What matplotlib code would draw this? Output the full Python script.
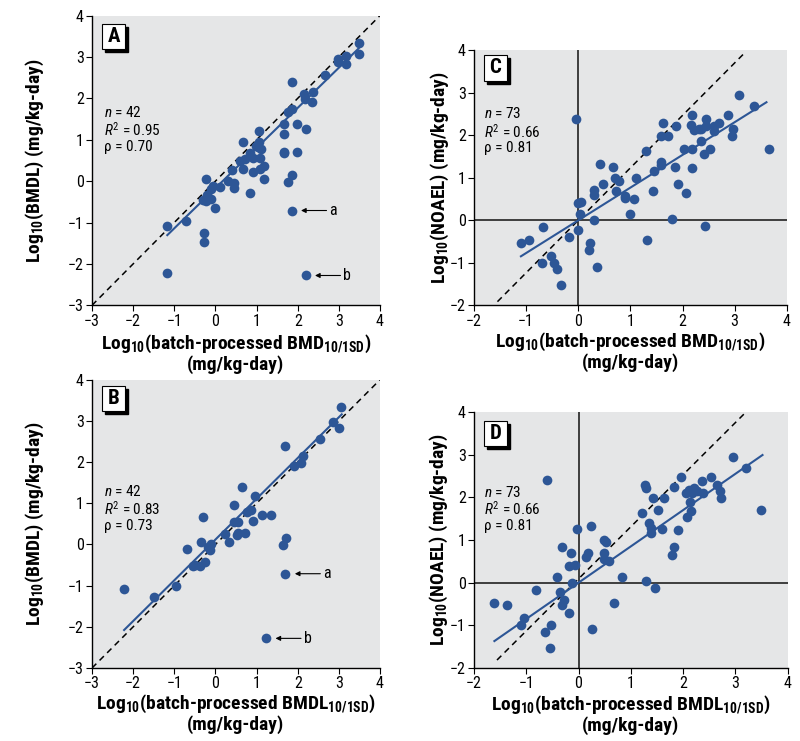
import matplotlib
matplotlib.use("Agg")
import matplotlib.pyplot as plt
from matplotlib import font_manager
from matplotlib.patches import Rectangle
import numpy as np

# pick a condensed sans (the figure uses a Univers-condensed-like face)
have = {}
for f in font_manager.fontManager.ttflist:
    have.setdefault(f.name, set()).add(str(f.weight))
narrow = 'Liberation Sans'
for name in ['Liberation Sans Narrow', 'Roboto Condensed', 'PT Sans Narrow',
             'Arimo Narrow', 'Archivo Narrow', 'Asap Condensed']:
    if name in have and ('700' in have[name] or 'bold' in have[name]):
        narrow = name
        break

plt.rcParams['font.sans-serif'] = [narrow, 'Liberation Sans', 'DejaVu Sans']
plt.rcParams['font.family'] = 'sans-serif'
plt.rcParams['mathtext.fontset'] = 'custom'
plt.rcParams['mathtext.rm'] = 'sans'
plt.rcParams['mathtext.it'] = 'sans:italic'
plt.rcParams['mathtext.bf'] = 'sans:bold'

##################################################
# data
# panel A: batch BMD vs BMDL
a_x = [3.48, 3.48, 3.17, 3.17, 2.98, 2.98, 2.67, 1.85, 2.16, 2.38, 2.18, 2.34,
       1.85, 1.77, 1.66, 1.98, 2.19, 1.66, 1.66, 1.66, 1.98, 1.85, 1.77, 1.85,
       2.19, 1.05, 1.05, 1.04, 1.10, 0.98, 0.66, 0.92, 1.08, 0.83, 0.71, 0.59,
       0.67, 1.17, 1.09, 0.92, 1.17, 0.41, 0.31, 0.44, 0.44, 0.83, 0.11, -0.23,
       -0.06, -0.10, -0.20, -0.30, -0.22, -0.11, -0.02, -0.28, -0.28, -0.71,
       -1.17, -1.17]
a_y = [3.34, 3.07, 3.03, 2.83, 2.96, 2.88, 2.56, 2.39, 2.10, 2.15, 1.99, 1.92,
       1.75, 1.67, 1.39, 1.38, 1.25, 1.13, 0.71, 0.68, 0.71, 0.15, -0.02, -0.71,
       -2.28, 1.20, 0.95, 0.82, 0.78, 0.84, 0.95, 0.57, 0.56, 0.67, 0.53, 0.49,
       0.29, 0.36, 0.29, 0.23, 0.05, 0.26, 0.00, -0.05, -0.16, -0.28, -0.13, 0.05,
       -0.12, -0.19, -0.33, -0.45, -0.49, -0.43, -0.66, -1.26, -1.47, -0.97,
       -1.09, -2.22]

# panel B: batch BMDL vs BMDL
b_x = [3.06, 2.86, 3.00, 2.55, 1.70, 2.12, 2.09, 1.91, 0.65, 0.95, 0.46, 0.87,
       0.77, 1.12, 1.36, -0.29, 0.45, 0.54, 0.92, 0.54, 0.73, 0.53, 0.24, 1.72,
       1.64, 0.34, -0.36, -0.11, -0.18, -0.14, -0.68, -0.25, -0.49, -0.38, -0.54,
       1.70, -0.96, -1.49, -2.22, 1.23]
b_y = [3.33, 2.97, 2.82, 2.55, 2.38, 2.14, 1.98, 1.91, 1.39, 1.18, 0.96, 0.84,
       0.79, 0.71, 0.71, 0.67, 0.54, 0.55, 0.56, 0.29, 0.29, 0.23, 0.25, 0.15,
       -0.02, 0.05, 0.05, 0.01, -0.05, -0.13, -0.10, -0.42, -0.49, -0.53, -0.52,
       -0.71, -1.01, -1.27, -1.09, -2.28]

# panel C: batch BMD vs NOAEL
c_x = [3.08, 3.38, 3.66, -0.04, 1.62, 1.87, 2.19, 2.17, 2.22, 2.31, 2.45, 2.45,
       2.36, 2.60, 2.69, 2.60, 2.87, 2.97, 2.95, 1.58, 1.72, 2.36, 1.29, 2.03,
       2.19, 2.52, 2.42, 1.59, 1.59, 1.86, 2.18, 1.46, 0.41, 0.66, 0.71, 0.78,
       0.47, 1.11, 1.92, 2.06, 1.44, 0.30, 0.31, 0.73, 0.89, 0.89, 1.07, 0.99,
       -0.01, 0.06, 0.04, 0.31, 1.80, 2.43, 0.00, -0.18, -0.68, -0.94, -1.10,
       1.31, 0.22, 0.20, -0.52, -0.70, -0.47, -0.41, 0.36, -0.33]
c_y = [2.94, 2.68, 1.69, 2.39, 2.30, 2.23, 2.49, 2.25, 2.13, 2.15, 2.39, 2.22,
       2.16, 2.23, 2.30, 2.10, 2.49, 2.16, 1.99, 1.98, 1.99, 1.87, 1.62, 1.69,
       1.69, 1.69, 1.55, 1.38, 1.30, 1.25, 1.24, 1.16, 1.33, 1.25, 1.00, 0.93,
       0.85, 1.00, 0.85, 0.64, 0.69, 0.71, 0.60, 0.69, 0.58, 0.53, 0.50, 0.15,
       0.40, 0.42, 0.16, 0.00, 0.04, -0.14, -0.22, -0.40, -0.16, -0.46, -0.53,
       -0.46, -0.53, -0.70, -0.83, -1.00, -1.00, -1.15, -1.09, -1.52]

# panel D: batch BMDL vs NOAEL
d_x = [2.95, 3.20, 3.50, -0.61, 1.27, 1.29, 1.97, 1.83, 2.36, 2.54, 2.64, 2.71,
       2.73, 2.06, 2.12, 2.20, 2.26, 2.17, 2.39, 2.13, 2.15, 2.07, 1.42, 1.63,
       1.52, 1.21, 1.35, 1.39, 1.38, 1.59, 1.90, 1.82, 1.78, -0.02, 0.24, 0.49,
       0.53, 0.49, 0.48, 0.58, 0.19, 0.14, -0.32, -0.15, -0.18, -0.06, -0.42,
       0.83, -0.12, 1.29, 1.46, -0.82, -0.36, -0.27, -0.32, -0.19, 0.67, -1.61,
       -1.37, -1.04, -1.11, -0.52, -0.64, 0.25, -0.55]
d_y = [2.95, 2.69, 1.70, 2.40, 2.30, 2.23, 2.48, 2.25, 2.39, 2.48, 2.29, 2.15,
       1.99, 2.09, 2.17, 2.21, 2.15, 2.09, 2.09, 1.90, 1.69, 1.55, 1.98, 1.99,
       1.70, 1.64, 1.41, 1.29, 1.17, 1.26, 1.24, 0.84, 0.64, 1.25, 1.33, 1.00,
       0.96, 0.70, 0.55, 0.51, 0.70, 0.59, 0.84, 0.70, 0.40, 0.41, 0.14, 0.14,
       0.00, 0.04, -0.13, -0.16, -0.23, -0.41, -0.52, -0.70, -0.47, -0.47, -0.52,
       -0.82, -0.99, -0.99, -1.15, -1.09, -1.52]

# fitted lines (slope, intercept, x start, x end) and reference dashed lines
fits = {'A': (0.97, -0.17, -1.17, 3.48), 'B': (0.99, 0.12, -2.22, 3.07),
        'C': (0.77, 0.0, -1.10, 3.61), 'D': (0.85, 0.0, -1.61, 3.52)}
refs = {'A': (1.0, 0.0, -3.0, 4.0), 'B': (1.0, 0.0, -3.0, 4.0),
        'C': (1.235, 0.0, -1.55, 3.17), 'D': (1.22, 0.09, -1.56, 3.20)}
stats = {'A': ('42', '0.95', '0.70'), 'B': ('42', '0.83', '0.73'),
         'C': ('73', '0.66', '0.81'), 'D': ('73', '0.66', '0.81')}
# outliers marked a and b (panels A, B)
outliers = {'A': [(1.85, -0.71, 'a'), (2.19, -2.28, 'b')],
            'B': [(1.70, -0.71, 'a'), (1.23, -2.28, 'b')]}

xlab_bmd = 'Log$_{\\mathbf{10}}$(batch-processed BMD$_{\\mathbf{10/1SD}}$)\n(mg/kg-day)'
xlab_bmdl = 'Log$_{\\mathbf{10}}$(batch-processed BMDL$_{\\mathbf{10/1SD}}$)\n(mg/kg-day)'
ylab_bmdl = 'Log$_{\\mathbf{10}}$(BMDL) (mg/kg-day)'
ylab_noael = 'Log$_{\\mathbf{10}}$(NOAEL) (mg/kg-day)'

dot_col = '#2d5696'
bg_col = '#e5e6e7'

fig = plt.figure(figsize=(8, 7.41), dpi=100)


def panel(rect, key, xs, ys, xlim, ylim, xlab, ylab, box, txt_y, xlab_y, ylab_x, cross):
    ax = fig.add_axes(rect)
    ax.set_facecolor(bg_col)
    ax.set_xlim(*xlim)
    ax.set_ylim(*ylim)
    ax.set_xticks(np.arange(xlim[0], xlim[1] + 1))
    ax.set_yticks(np.arange(ylim[0], ylim[1] + 1))
    ax.set_xticklabels([str(v).replace('-', '\u2212') for v in range(xlim[0], xlim[1] + 1)])
    ax.set_yticklabels([str(v).replace('-', '\u2212') for v in range(ylim[0], ylim[1] + 1)])
    for s in ['top', 'right']:
        ax.spines[s].set_visible(False)
    for s in ['left', 'bottom']:
        ax.spines[s].set_linewidth(1.0)
    ax.tick_params(direction='out', length=4, width=0.8, labelsize=11.5, pad=2)
    if cross:
        ax.axhline(0, color='#222222', lw=1.2, zorder=1)
        ax.axvline(0, color='#222222', lw=1.2, zorder=1)

    m, b, x0, x1 = refs[key]
    xx = np.array([x0, x1])
    ax.plot(xx, m * xx + b, color='black', lw=1.1, ls=(0, (4, 3)), zorder=2)
    m, b, x0, x1 = fits[key]
    xx = np.array([x0, x1])
    ax.plot(xx, m * xx + b, color=dot_col, lw=1.5, zorder=3)
    ax.plot(xs, ys, 'o', color=dot_col, ms=7.0, mew=0, zorder=4)

    for px, py, lbl in outliers.get(key, []):
        ax.annotate('', xy=(px + 0.23, py), xytext=(px + 0.85, py),
                    arrowprops=dict(arrowstyle='-|>', color='black', lw=0.8,
                                    mutation_scale=7, shrinkA=0, shrinkB=0))
        ax.text(px + 0.92, py, lbl, fontsize=11.5, va='center', ha='left')

    n, r2, rho = stats[key]
    tx = 0.04 if not cross else 0.033
    ax.text(tx, txt_y[0], '$n$ = ' + n, transform=ax.transAxes, fontsize=11, va='center')
    ax.text(tx, txt_y[1], '$R^2$ = ' + r2, transform=ax.transAxes, fontsize=11, va='center')
    ax.text(tx, txt_y[2], '\u03c1 = ' + rho, transform=ax.transAxes, fontsize=11, va='center')

    # panel letter in a white box with drop shadow
    bx0, bx1, by0, by1 = box
    w = bx1 - bx0
    h = by1 - by0
    sx = 3.0 / (rect[2] * 800)
    sy = 3.0 / (rect[3] * 741)
    ax.add_patch(Rectangle((bx0 + sx, by0 - sy), w, h, transform=ax.transAxes,
                           facecolor='black', edgecolor='black', zorder=5, clip_on=False))
    ax.add_patch(Rectangle((bx0, by0), w, h, transform=ax.transAxes,
                           facecolor='white', edgecolor='black', lw=0.8, zorder=6, clip_on=False))
    ax.text(bx0 + w / 2, by0 + h / 2, key, transform=ax.transAxes, ha='center', va='center',
            fontsize=15, fontweight='bold', zorder=7)

    ax.set_xlabel(xlab, fontsize=14, fontweight='bold', linespacing=1.0)
    ax.xaxis.set_label_coords(0.5, xlab_y)
    ax.set_ylabel(ylab, fontsize=14, fontweight='bold')
    ax.yaxis.set_label_coords(ylab_x, 0.5)
    return ax


panel([0.115, 0.588, 0.36, 0.391], 'A', a_x, a_y, (-3, 4), (-3, 4), xlab_bmd, ylab_bmdl,
      (0.035, 0.115, 0.886, 0.972), (0.667, 0.606, 0.546), -0.095, -0.16, False)
panel([0.115, 0.0985, 0.36, 0.389], 'B', b_x, b_y, (-3, 4), (-3, 4), xlab_bmdl, ylab_bmdl,
      (0.035, 0.115, 0.892, 0.979), (0.611, 0.552, 0.493), -0.086, -0.16, False)
panel([0.5925, 0.588, 0.391, 0.344], 'C', c_x, c_y, (-2, 4), (-2, 4), xlab_bmd, ylab_noael,
      (0.032, 0.105, 0.88, 0.983), (0.751, 0.682, 0.618), -0.10, -0.075, True)
panel([0.5925, 0.0985, 0.392, 0.3455], 'D', d_x, d_y, (-2, 4), (-2, 4), xlab_bmdl, ylab_noael,
      (0.032, 0.105, 0.867, 0.965), (0.686, 0.621, 0.553), -0.10, -0.075, True)

fig.savefig('out.png', dpi=100)
